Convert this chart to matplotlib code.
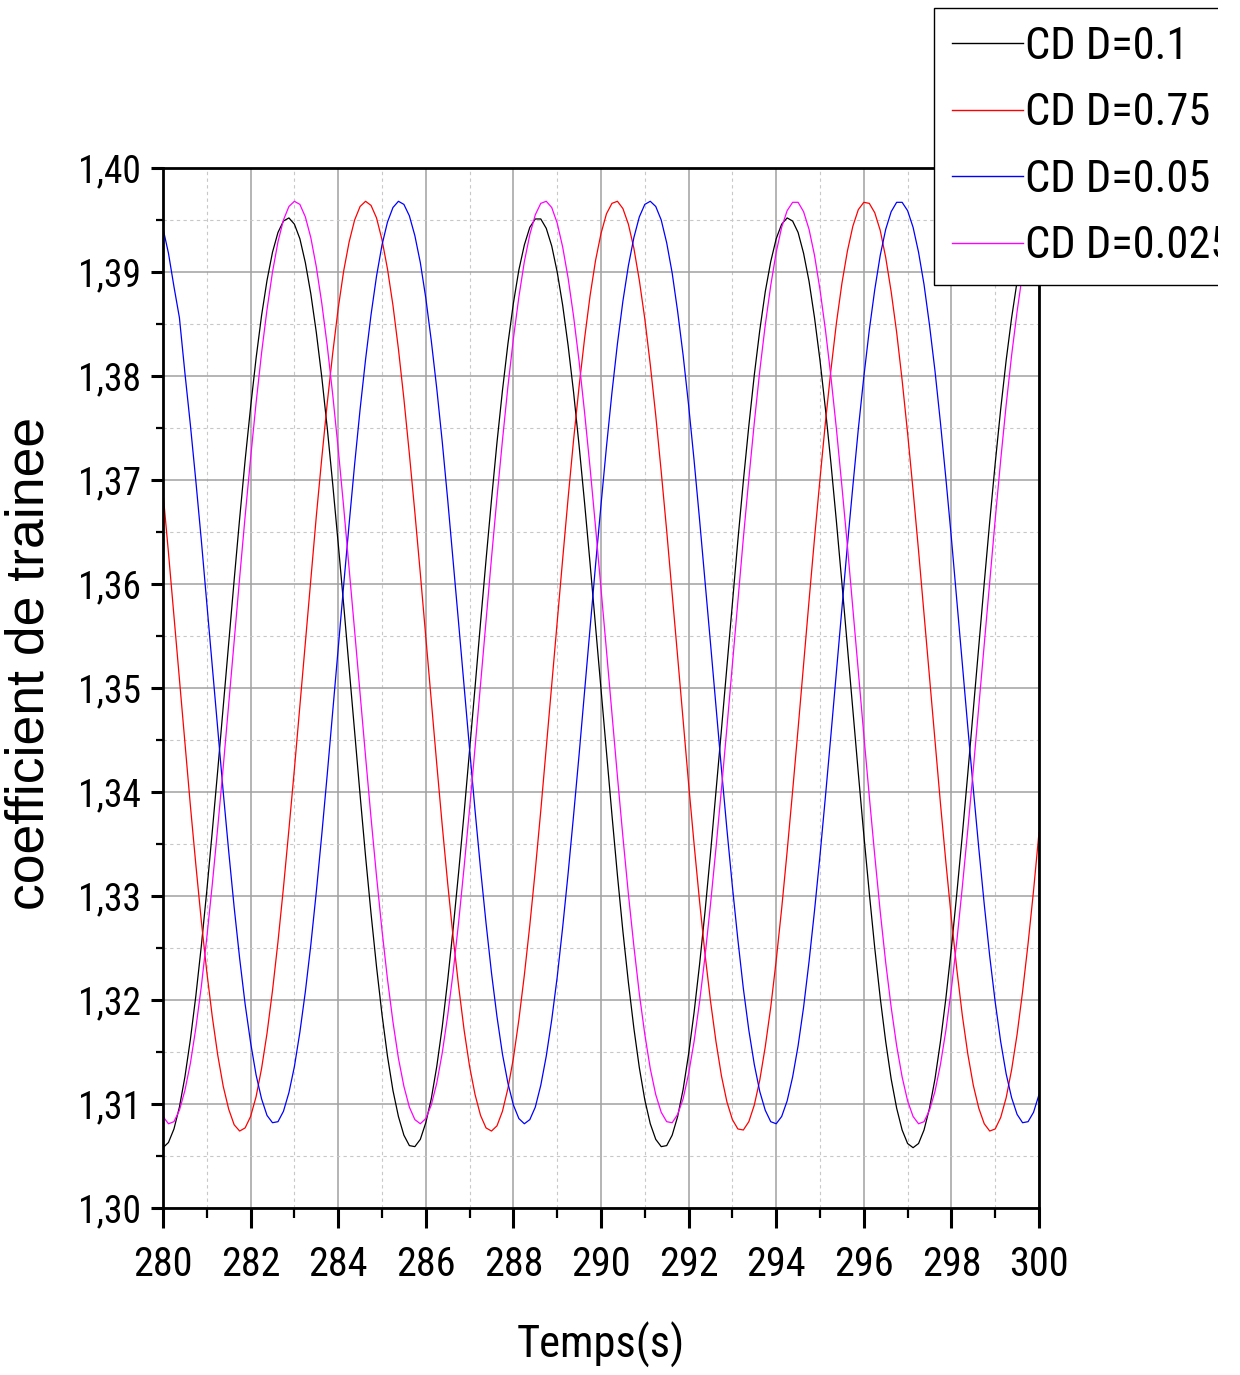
import numpy as np
import matplotlib.pyplot as plt
from matplotlib import font_manager as fm
from matplotlib.ticker import MultipleLocator
from matplotlib.patches import Rectangle

# sampling times (s), one value every 0.125 s
time = np.linspace(280, 300, 161)

# drag coefficient
cd_01 = [1.3058, 1.3063, 1.3076, 1.3097, 1.3126, 1.3162, 1.3204, 1.3252, 1.3305, 1.3362,
         1.3421, 1.3482, 1.3543, 1.3604, 1.3663, 1.3719, 1.3770, 1.3817, 1.3858, 1.3892,
         1.3919, 1.3938, 1.3949, 1.3952, 1.3946, 1.3932, 1.3909, 1.3879, 1.3842, 1.3799,
         1.3750, 1.3696, 1.3639, 1.3580, 1.3519, 1.3458, 1.3397, 1.3338, 1.3283, 1.3232,
         1.3186, 1.3146, 1.3113, 1.3088, 1.3070, 1.3060, 1.3059, 1.3066, 1.3082, 1.3105,
         1.3136, 1.3174, 1.3219, 1.3269, 1.3323, 1.3380, 1.3440, 1.3501, 1.3563, 1.3623,
         1.3681, 1.3736, 1.3786, 1.3831, 1.3870, 1.3902, 1.3926, 1.3943, 1.3951, 1.3951,
         1.3942, 1.3925, 1.3900, 1.3868, 1.3829, 1.3784, 1.3733, 1.3678, 1.3620, 1.3560,
         1.3499, 1.3438, 1.3378, 1.3320, 1.3266, 1.3217, 1.3173, 1.3135, 1.3104, 1.3081,
         1.3066, 1.3059, 1.3060, 1.3070, 1.3088, 1.3114, 1.3148, 1.3188, 1.3234, 1.3285,
         1.3341, 1.3400, 1.3460, 1.3521, 1.3582, 1.3642, 1.3699, 1.3752, 1.3801, 1.3844,
         1.3881, 1.3910, 1.3932, 1.3946, 1.3952, 1.3949, 1.3938, 1.3918, 1.3891, 1.3856,
         1.3815, 1.3768, 1.3716, 1.3660, 1.3601, 1.3540, 1.3479, 1.3418, 1.3359, 1.3303,
         1.3250, 1.3202, 1.3160, 1.3124, 1.3096, 1.3075, 1.3062, 1.3058, 1.3062, 1.3075,
         1.3096, 1.3124, 1.3160, 1.3202, 1.3250, 1.3303, 1.3359, 1.3418, 1.3479, 1.3540,
         1.3601, 1.3660, 1.3716, 1.3768, 1.3815, 1.3856, 1.3891, 1.3918, 1.3938, 1.3949,
         1.3952]

cd_075 = [1.3688, 1.3630, 1.3569, 1.3507, 1.3446, 1.3387, 1.3330, 1.3276, 1.3227, 1.3184,
          1.3147, 1.3117, 1.3095, 1.3080, 1.3074, 1.3077, 1.3088, 1.3107, 1.3134, 1.3168,
          1.3209, 1.3256, 1.3308, 1.3364, 1.3422, 1.3483, 1.3544, 1.3605, 1.3665, 1.3721,
          1.3774, 1.3822, 1.3865, 1.3901, 1.3929, 1.3950, 1.3963, 1.3968, 1.3964, 1.3952,
          1.3931, 1.3903, 1.3868, 1.3826, 1.3778, 1.3725, 1.3669, 1.3610, 1.3549, 1.3488,
          1.3427, 1.3368, 1.3312, 1.3260, 1.3213, 1.3171, 1.3136, 1.3109, 1.3089, 1.3077,
          1.3074, 1.3079, 1.3093, 1.3115, 1.3144, 1.3181, 1.3224, 1.3272, 1.3325, 1.3382,
          1.3442, 1.3503, 1.3564, 1.3624, 1.3683, 1.3739, 1.3790, 1.3836, 1.3877, 1.3911,
          1.3937, 1.3956, 1.3966, 1.3968, 1.3961, 1.3946, 1.3923, 1.3892, 1.3855, 1.3811,
          1.3762, 1.3708, 1.3651, 1.3591, 1.3530, 1.3469, 1.3408, 1.3350, 1.3295, 1.3244,
          1.3199, 1.3160, 1.3127, 1.3102, 1.3085, 1.3076, 1.3075, 1.3083, 1.3099, 1.3123,
          1.3155, 1.3193, 1.3238, 1.3288, 1.3343, 1.3401, 1.3461, 1.3523, 1.3584, 1.3644,
          1.3701, 1.3756, 1.3806, 1.3851, 1.3889, 1.3920, 1.3944, 1.3960, 1.3967, 1.3966,
          1.3957, 1.3940, 1.3914, 1.3881, 1.3842, 1.3796, 1.3745, 1.3690, 1.3632, 1.3571,
          1.3510, 1.3449, 1.3389, 1.3332, 1.3278, 1.3229, 1.3185, 1.3148, 1.3118, 1.3096,
          1.3081, 1.3074, 1.3076, 1.3087, 1.3106, 1.3133, 1.3167, 1.3208, 1.3254, 1.3305,
          1.3361]

cd_005 = [1.3942, 1.3918, 1.3886, 1.3856, 1.3803, 1.3753, 1.3699, 1.3642, 1.3582, 1.3521,
          1.3460, 1.3400, 1.3343, 1.3289, 1.3240, 1.3196, 1.3159, 1.3128, 1.3105, 1.3089,
          1.3082, 1.3083, 1.3093, 1.3111, 1.3136, 1.3169, 1.3208, 1.3253, 1.3304, 1.3359,
          1.3417, 1.3477, 1.3538, 1.3599, 1.3658, 1.3715, 1.3768, 1.3816, 1.3859, 1.3896,
          1.3926, 1.3948, 1.3962, 1.3968, 1.3965, 1.3954, 1.3935, 1.3909, 1.3875, 1.3834,
          1.3788, 1.3737, 1.3681, 1.3622, 1.3562, 1.3501, 1.3441, 1.3382, 1.3326, 1.3274,
          1.3226, 1.3184, 1.3148, 1.3120, 1.3099, 1.3086, 1.3081, 1.3085, 1.3097, 1.3118,
          1.3146, 1.3181, 1.3222, 1.3270, 1.3322, 1.3378, 1.3436, 1.3497, 1.3558, 1.3618,
          1.3676, 1.3732, 1.3784, 1.3831, 1.3872, 1.3906, 1.3933, 1.3953, 1.3965, 1.3968,
          1.3963, 1.3950, 1.3928, 1.3899, 1.3862, 1.3820, 1.3772, 1.3719, 1.3662, 1.3603,
          1.3543, 1.3482, 1.3422, 1.3364, 1.3309, 1.3258, 1.3211, 1.3171, 1.3138, 1.3112,
          1.3094, 1.3083, 1.3081, 1.3088, 1.3103, 1.3126, 1.3156, 1.3193, 1.3237, 1.3286,
          1.3339, 1.3396, 1.3455, 1.3516, 1.3577, 1.3637, 1.3694, 1.3749, 1.3799, 1.3844,
          1.3883, 1.3916, 1.3941, 1.3958, 1.3967, 1.3967, 1.3959, 1.3943, 1.3919, 1.3888,
          1.3849, 1.3805, 1.3755, 1.3701, 1.3644, 1.3584, 1.3523, 1.3462, 1.3403, 1.3346,
          1.3292, 1.3242, 1.3198, 1.3160, 1.3129, 1.3106, 1.3090, 1.3082, 1.3083, 1.3092,
          1.3109]

cd_0025 = [1.3088, 1.3081, 1.3083, 1.3094, 1.3113, 1.3139, 1.3173, 1.3213, 1.3260, 1.3311,
           1.3366, 1.3424, 1.3484, 1.3545, 1.3606, 1.3665, 1.3721, 1.3774, 1.3822, 1.3864,
           1.3900, 1.3929, 1.3950, 1.3963, 1.3968, 1.3965, 1.3953, 1.3933, 1.3905, 1.3870,
           1.3829, 1.3782, 1.3730, 1.3674, 1.3615, 1.3555, 1.3494, 1.3434, 1.3375, 1.3319,
           1.3267, 1.3220, 1.3179, 1.3144, 1.3117, 1.3097, 1.3085, 1.3081, 1.3086, 1.3099,
           1.3120, 1.3149, 1.3185, 1.3227, 1.3275, 1.3328, 1.3384, 1.3443, 1.3504, 1.3565,
           1.3625, 1.3683, 1.3738, 1.3790, 1.3836, 1.3876, 1.3910, 1.3936, 1.3955, 1.3966,
           1.3968, 1.3962, 1.3947, 1.3924, 1.3894, 1.3857, 1.3814, 1.3765, 1.3712, 1.3655,
           1.3596, 1.3536, 1.3475, 1.3415, 1.3357, 1.3302, 1.3252, 1.3206, 1.3167, 1.3134,
           1.3109, 1.3092, 1.3083, 1.3082, 1.3090, 1.3105, 1.3129, 1.3160, 1.3198, 1.3242,
           1.3292, 1.3346, 1.3403, 1.3462, 1.3523, 1.3584, 1.3644, 1.3701, 1.3755, 1.3805,
           1.3849, 1.3887, 1.3919, 1.3943, 1.3959, 1.3967, 1.3967, 1.3958, 1.3941, 1.3916,
           1.3883, 1.3844, 1.3799, 1.3749, 1.3694, 1.3637, 1.3577, 1.3516, 1.3455, 1.3396,
           1.3339, 1.3285, 1.3236, 1.3193, 1.3156, 1.3126, 1.3103, 1.3088, 1.3081, 1.3083,
           1.3094, 1.3112, 1.3138, 1.3171, 1.3211, 1.3257, 1.3309, 1.3364, 1.3422, 1.3482,
           1.3543, 1.3603, 1.3662, 1.3719, 1.3772, 1.3820, 1.3862, 1.3899, 1.3928, 1.3950,
           1.3963]

labels = ["CD D=0.1", "CD D=0.75", "CD D=0.05", "CD D=0.025"]
colors = ["black", "red", "blue", "magenta"]

x_ticks = [280, 282, 284, 286, 288, 290, 292, 294, 296, 298, 300]
y_ticks = [1.30, 1.31, 1.32, 1.33, 1.34, 1.35, 1.36, 1.37, 1.38, 1.39, 1.40]
y_tick_labels = ["1,30", "1,31", "1,32", "1,33", "1,34", "1,35", "1,36", "1,37", "1,38", "1,39", "1,40"]


def regular(f):
    return f.style == 'normal' and f.weight in (400, 'normal', 'regular')


def narrow_font():
    # the original uses a narrow Arial-like face; take one if the system has it
    entries = fm.fontManager.ttflist
    for name in ['Liberation Sans Narrow', 'Arial Narrow', 'Roboto Condensed',
                 'Open Sans Condensed', 'Noto Sans Condensed']:
        for f in entries:
            if f.name == name and regular(f):
                return f.fname
    for f in entries:
        if (f.stretch in ('condensed', 'semi-condensed', 'extra-condensed') and regular(f)
                and 'Mono' not in f.name and 'Serif' not in f.name):
            return f.fname
    return None


def plain_font():
    for f in fm.fontManager.ttflist:
        if f.name == 'Liberation Sans' and regular(f) and f.stretch == 'normal':
            return f.fname
    return None


narrow_file = narrow_font()
plain_file = plain_font()


def fp(size, fname=narrow_file):
    if fname:
        return fm.FontProperties(fname=fname, size=size)
    return fm.FontProperties(family='Liberation Sans', size=size)


if narrow_file:
    sz_y, sz_x, sz_leg, sz_xlab = 27, 29, 32, 32
else:
    sz_y, sz_x, sz_leg, sz_xlab = 23, 25, 28, 30

fig = plt.figure(figsize=(12.4, 13.75), dpi=100)
ax = fig.add_axes([163/1240, 1 - 1208/1375, 876/1240, 1040/1375])

for y, c, lab in zip([cd_01, cd_075, cd_005, cd_0025], colors, labels):
    ax.plot(time, y, color=c, lw=0.9, label=lab)

ax.set_xlim(280, 300)
ax.set_ylim(1.30, 1.40)
ax.set_xticks(x_ticks)
ax.set_xticklabels([str(t) for t in x_ticks])
ax.set_yticks(y_ticks)
ax.set_yticklabels(y_tick_labels)
ax.xaxis.set_minor_locator(MultipleLocator(1))
ax.yaxis.set_minor_locator(MultipleLocator(0.005))

ax.grid(which='major', color='#a0a0a0', lw=1.1, zorder=0)
ax.grid(which='minor', color='#c8c8c8', lw=0.8, ls=(0, (3, 3)), zorder=0)
ax.set_axisbelow(True)

for s in ax.spines.values():
    s.set_linewidth(2.0)
    s.set_color('black')

ax.tick_params(axis='y', which='major', direction='out', length=8.6, width=2.2, pad=7)
ax.tick_params(axis='y', which='minor', direction='out', length=5, width=1.6)
ax.tick_params(axis='x', which='major', direction='out', length=14.4, width=2.2, pad=12)
ax.tick_params(axis='x', which='minor', direction='out', length=7.2, width=1.6)
for lbl in ax.get_yticklabels():
    lbl.set_fontproperties(fp(sz_y))
for lbl in ax.get_xticklabels():
    lbl.set_fontproperties(fp(sz_x))

ax.set_xlabel("Temps(s)", fontproperties=fp(sz_xlab), va='center')
ax.xaxis.set_label_coords((601 - 163) / 876, (1208 - 1345) / 1040)
ax.set_ylabel("coefficient de trainee", fontproperties=fp(38.5, plain_file), va='center')
ax.yaxis.set_label_coords((30 - 163) / 876, (1208 - 663) / 1040)

leg = ax.legend(loc='upper left', bbox_to_anchor=(934/1240, 1 - 8/1375),
                bbox_transform=fig.transFigure, prop=fp(sz_leg), frameon=True,
                fancybox=False, edgecolor='black', framealpha=1,
                handlelength=1.6, handletextpad=0.05, borderpad=0.4,
                borderaxespad=0, labelspacing=0.55)
leg.get_frame().set_linewidth(1.0)
for line in leg.get_lines():
    line.set_linewidth(1.0)

# the right part of the legend is cut off in the original
fig.patches.append(Rectangle((1218/1240, 0), 22/1240, 1, transform=fig.transFigure,
                             facecolor='white', edgecolor='none', zorder=10))

fig.savefig("out.png", dpi=100)
